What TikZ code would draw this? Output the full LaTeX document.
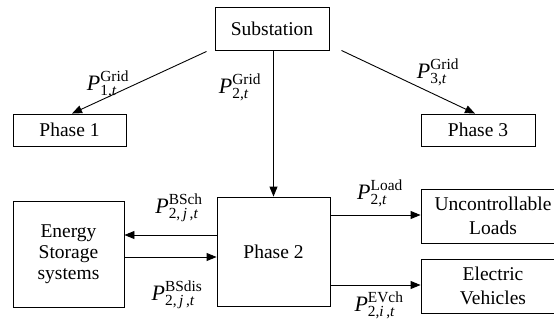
\documentclass[tikz,border=0pt]{standalone}
\usepackage{fontspec}
\usepackage{amsmath}
\setmainfont{LiberationSerif}[Extension=.ttf,UprightFont=*-Regular,ItalicFont=*-Italic,BoldFont=*-Bold,BoldItalicFont=*-BoldItalic]
\usetikzlibrary{arrows.meta}
\newcommand{\PL}[2]{$\textit{P}^{\text{#1}}_{\text{#2}}$}
\begin{document}
\begin{tikzpicture}[x=1pt,y=-1pt,
  box/.style={draw,line width=0.9pt,inner sep=0pt,align=center,font=\fontsize{19.5}{24}\selectfont},
  conn/.style={line width=0.9pt,-{Triangle[length=10pt,width=8pt]}},
  lab/.style={inner sep=0pt,font=\fontsize{22}{24}\selectfont}]
\useasboundingbox (0,0) rectangle (554,322);
\clip (0,0) rectangle (554,322);
\node[box,minimum width=114pt,minimum height=43pt] (sub) at (272,28.5) {Substation};
\node[box,minimum width=113pt,minimum height=32pt] (p1) at (69.5,130) {Phase 1};
\node[box,minimum width=114pt,minimum height=32pt] (p3) at (478,130) {Phase 3};
\node[box,minimum width=113pt,minimum height=109pt] (p2) at (273.5,251.5) {Phase 2};
\node[box,minimum width=111pt,minimum height=106pt,font=\fontsize{19.5}{21}\selectfont] (ess) at (68.5,254) {Energy\\Storage\\systems};
\node[box,minimum width=144pt,minimum height=54pt] (ld) at (493,216) {Uncontrollable\\Loads};
\node[box,minimum width=144pt,minimum height=54pt] (ev) at (493,286) {Electric\\Vehicles};
\coordinate (ya) at (0,235);
\coordinate (yb) at (0,257);
\coordinate (yc) at (0,215);
\coordinate (yd) at (0,285);
\draw[conn] ([shift={(-8pt,-1pt)}]sub.south west) -- ([xshift=2.5pt]p1.north);
\draw[conn] ([shift={(12pt,0pt)}]sub.south east) -- ([xshift=-3pt]p3.north);
\draw[conn] (sub.south -| p2.north) -- (p2.north);
\draw[conn] (p2.west |- ya) -- (ess.east |- ya);
\draw[conn] (ess.east |- yb) -- (p2.west |- yb);
\draw[conn] (p2.east |- yc) -- (ld.west |- yc);
\draw[conn] (p2.east |- yd) -- (ev.west |- yd);
\node[lab] (l1) at (108,84) {\PL{Grid}{1,\textit{t}}};
\node[lab] (l2) at (240,87) {\PL{Grid}{2,\textit{t}}};
\node[lab] (l3) at (438,72) {\PL{Grid}{3,\textit{t}}};
\node[lab] (l4) at (179,208) {\PL{BSch}{2,\,\textit{j}\,,\textit{t}}};
\node[lab] (l5) at (177,295) {\PL{BSdis}{2,\,\textit{j}\,,\textit{t}}};
\node[lab] (l6) at (380,193) {\PL{Load}{2,\textit{t}}};
\node[lab] (l7) at (379,305) {\PL{EVch}{2,\textit{i}\,,\textit{t}}};
\end{tikzpicture}
\end{document}
